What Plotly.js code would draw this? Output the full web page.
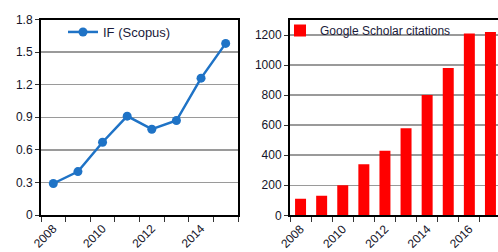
<!DOCTYPE html>
<html>
<head>
<meta charset="utf-8">
<script src="https://cdn.plot.ly/plotly-3.0.1.min.js"></script>
<style>
html,body{margin:0;padding:0;overflow:hidden;background:#fff;width:498px;height:252px;}
#chart{width:504px;height:252px;}
</style>
</head>
<body>
<div id="chart"></div>
<script>
// Data
const ifYears = [2008, 2009, 2010, 2011, 2012, 2013, 2014, 2015];
const ifValues = [0.29, 0.40, 0.67, 0.91, 0.79, 0.87, 1.26, 1.58];
const citYears = [2008, 2009, 2010, 2011, 2012, 2013, 2014, 2015, 2016, 2017];
const citValues = [110, 130, 200, 340, 430, 580, 800, 980, 1210, 1220];
const ifTickLabels = ['2008', '2010', '2012', '2014'];
const citTickLabels = ['2008', '2010', '2012', '2014', '2016'];

const W = 504, H = 252;
const tickFont = {family: 'Liberation Sans, Arial, sans-serif', size: 12, color: '#141428'};

const traces = [
  {
    x: ifYears, y: ifValues, type: 'scatter', mode: 'lines+markers',
    name: 'IF (Scopus)', xaxis: 'x', yaxis: 'y', legend: 'legend',
    line: {color: '#1f73c6', width: 2.5},
    marker: {color: '#1f73c6', size: 9}
  },
  {
    x: citYears, y: citValues, type: 'bar',
    name: 'Google Scholar citations', xaxis: 'x2', yaxis: 'y2', legend: 'legend2',
    marker: {color: '#ff0000'}, width: 0.52
  }
];

function xax(domain, years, labels) {
  return {
    domain: domain, type: 'linear',
    range: [years[0] - 0.5, years[years.length - 1] + 0.5],
    tickmode: 'array', tickvals: labels.map(Number), ticktext: labels,
    tickangle: -45, ticks: '', tickfont: tickFont,
    showgrid: false, zeroline: false,
    showline: true, linecolor: '#000', linewidth: 2, mirror: true,
    minor: {tick0: years[0] - 0.5, dtick: 1, ticks: 'outside', ticklen: 5, tickcolor: '#333', tickwidth: 1, showgrid: false},
    fixedrange: true
  };
}
function yax(domain, range, dtick, anchor) {
  return {
    domain: domain, range: range, dtick: dtick, anchor: anchor,
    ticks: 'outside', ticklen: 4, tickcolor: '#333', tickfont: tickFont,
    showgrid: true, gridcolor: '#9a9a9a', gridwidth: 1.5,
    zeroline: false, showline: true, linecolor: '#000', linewidth: 2, mirror: true,
    fixedrange: true
  };
}

const layout = {
  width: W, height: H,
  margin: {l: 0, r: 0, t: 0, b: 0, pad: 0},
  paper_bgcolor: '#fff', plot_bgcolor: '#fff',
  font: {family: 'Liberation Sans, Arial, sans-serif', size: 12, color: '#141428'},
  xaxis: Object.assign(xax([41 / W, 238 / W], ifYears, ifTickLabels), {anchor: 'y'}),
  yaxis: yax([37 / H, 232.5 / H], [0, 1.8], 0.3, 'x'),
  xaxis2: Object.assign(xax([290 / W, 501 / W], citYears, citTickLabels), {anchor: 'y2'}),
  yaxis2: yax([36.7 / H, 232 / H], [0, 1300], 200, 'x2'),
  legend: {
    x: 63 / W, y: 1 - 17 / H, xanchor: 'left', yanchor: 'top',
    bgcolor: 'rgba(0,0,0,0)', borderwidth: 0, itemwidth: 30,
    font: {family: 'Liberation Sans, Arial, sans-serif', size: 13, color: '#1a1a3a'},
    tracegroupgap: 0
  },
  legend2: {
    x: 280 / W, y: 1 - 16 / H, xanchor: 'left', yanchor: 'top',
    bgcolor: 'rgba(0,0,0,0)', borderwidth: 0, itemwidth: 30,
    font: {family: 'Liberation Sans, Arial, sans-serif', size: 12, color: '#1a1a3a'},
    tracegroupgap: 0
  },
  showlegend: true
};

Plotly.newPlot('chart', traces, layout, {staticPlot: true, displayModeBar: false});
</script>
</body>
</html>
